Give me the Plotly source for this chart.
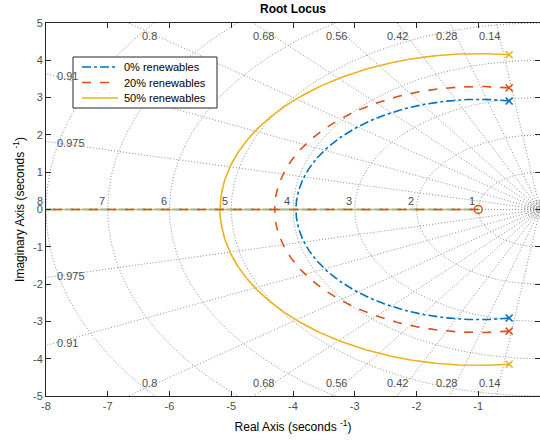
import numpy as np
import plotly.graph_objects as go

# ---- data ----
series_names = ["0% renewables", "20% renewables", "50% renewables"]
series_colors = ["#0072BD", "#D95319", "#EDB120"]
series_dash = ["dashdot", "dash", "solid"]
pole_real = [-0.5, -0.5, -0.5]
pole_imag = [2.91, 3.26, 4.15]
zero_real = [-1.0, -1.0, -1.0]

damping_values = [0.14, 0.28, 0.42, 0.56, 0.68, 0.8, 0.91, 0.975]
damping_top = [0.14, 0.28, 0.42, 0.56, 0.68, 0.8]
damping_left = [0.91, 0.975]
freq_values = [1, 2, 3, 4, 5, 6, 7, 8]
fine_freq_values = [0.05, 0.1, 0.15, 0.2, 0.25]
x_ticks = [-8, -7, -6, -5, -4, -3, -2, -1, 0]
y_ticks = [-5, -4, -3, -2, -1, 0, 1, 2, 3, 4, 5]
x_range = [-8, 0]
y_range = [-5, 5]

fig = go.Figure()

GRID_COLOR = "#8c8c8c"
GRID_DASH = "1px,2px"
LABEL_COLOR = "#4d4d4d"
TICK_COLOR = "#4d4d4d"
FONT = "Liberation Sans, Arial, sans-serif"
W, H = 540, 443
ML, MR, MT, MB = 46, 0, 23, 47
PW, PH = W - ML - MR, H - MT - MB

def px_to_paper(xp, yp):
    return (xp - ML) / PW, (H - MB - yp) / PH

# ---- s-plane grid: damping lines ----
R = 30
for z in damping_values + [1.0]:
    th = np.arccos(z)
    xs = [0, -R * np.cos(th), None, 0, -R * np.cos(th)]
    ys = [0, R * np.sin(th), None, 0, -R * np.sin(th)]
    fig.add_trace(go.Scatter(x=xs, y=ys, mode="lines", hoverinfo="skip", showlegend=False,
                             line=dict(color=GRID_COLOR, width=1, dash=GRID_DASH)))
# natural-frequency circles (left half)
ang = np.linspace(np.pi / 2, 3 * np.pi / 2, 400)
for r in freq_values + fine_freq_values:
    fig.add_trace(go.Scatter(x=r * np.cos(ang), y=r * np.sin(ang), mode="lines", hoverinfo="skip",
                             showlegend=False, line=dict(color=GRID_COLOR, width=1, dash=GRID_DASH)))

# ---- root loci ----
def locus(pr, pi, zr):
    # open loop (s - zr) / ((s-p)(s-p*)) ; closed loop char poly: s^2 + (a+K) s + (b - K zr)
    a = -2 * pr
    b = pr ** 2 + pi ** 2
    Kb_candidates = np.roots([1, 2 * a + 4 * zr, a ** 2 - 4 * b])
    Kb = max(np.real(Kb_candidates))
    K1 = np.linspace(0, Kb, 400)
    K2 = Kb + np.logspace(-6, 4, 600)
    def r(K, sign):
        B = a + K
        C = b - K * zr
        d = np.sqrt(B ** 2 - 4 * C + 0j)
        return (-B + sign * d) / 2
    up = np.concatenate([r(K1, 1), r(K2, 1)])
    lo = np.concatenate([r(K1, -1), r(K2, -1)])
    up = np.where(np.imag(up) < 0, np.conj(up), up)
    lo = np.where(np.imag(lo) > 0, np.conj(lo), lo)
    return up, lo

order = [0, 2, 1]  # blue, yellow, then orange on top (as in reference)
for i in order:
    up, lo = locus(pole_real[i], pole_imag[i], zero_real[i])
    for br in (up, lo):
        fig.add_trace(go.Scatter(x=np.real(br), y=np.imag(br), mode="lines", showlegend=False,
                                 hoverinfo="skip",
                                 line=dict(color=series_colors[i], width=1.6, dash=series_dash[i])))
    fig.add_trace(go.Scatter(x=[pole_real[i], pole_real[i]], y=[pole_imag[i], -pole_imag[i]],
                             mode="markers", showlegend=False, hoverinfo="skip",
                             marker=dict(symbol="x-thin", size=7, line=dict(color=series_colors[i], width=1.5))))
fig.add_trace(go.Scatter(x=[zero_real[1]], y=[0], mode="markers", showlegend=False, hoverinfo="skip",
                         marker=dict(symbol="circle-open", size=8, color=series_colors[1],
                                     line=dict(color=series_colors[1], width=1.5))))

# ---- grid labels ----
ann = []
y_lab = 4.66
for z in damping_top:
    slope = np.tan(np.arccos(z))
    for sgn in (1, -1):
        ann.append(dict(x=-y_lab / slope, y=sgn * y_lab, text=f"{z:g}", showarrow=False,
                        xanchor="right", yanchor="middle", xshift=3,
                        font=dict(size=11, color=LABEL_COLOR, family=FONT)))
x_lab = -7.83
for z in damping_left:
    slope = np.tan(np.arccos(z))
    for sgn in (1, -1):
        ann.append(dict(x=x_lab, y=sgn * (-x_lab) * slope, text=f"{z:g}", showarrow=False,
                        xanchor="left", yanchor="middle", xshift=-2,
                        font=dict(size=11, color=LABEL_COLOR, family=FONT)))
for r in freq_values:
    ann.append(dict(x=-r, y=0, text=str(r), showarrow=False, xanchor="right", yanchor="bottom",
                    xshift=-1, yshift=1, font=dict(size=11, color=LABEL_COLOR, family=FONT)))

# ---- legend (drawn manually to match MATLAB's compact legend box) ----
shapes = []
bx0, by0 = px_to_paper(73, 108)
bx1, by1 = px_to_paper(217, 57)
shapes.append(dict(type="rect", xref="paper", yref="paper", x0=bx0, y0=by0, x1=bx1, y1=by1,
                   fillcolor="white", line=dict(color="#262626", width=1), layer="above"))
entry_y = [67, 82.5, 98]
for i, yp in enumerate(entry_y):
    lx0, ly = px_to_paper(82, yp)
    lx1, _ = px_to_paper(118, yp)
    shapes.append(dict(type="line", xref="paper", yref="paper", x0=lx0, x1=lx1, y0=ly, y1=ly,
                       line=dict(color=series_colors[i], width=1.6, dash=series_dash[i]), layer="above"))
    tx, _ = px_to_paper(122, yp)
    ann.append(dict(xref="paper", yref="paper", x=tx, y=ly, text=series_names[i], showarrow=False,
                    xanchor="left", yanchor="middle",
                    font=dict(size=11, color="#000000", family=FONT)))

fig.update_layout(
    width=W, height=H,
    margin=dict(l=ML, r=MR, t=MT, b=MB),
    plot_bgcolor="white", paper_bgcolor="white",
    font=dict(family=FONT, size=11, color=TICK_COLOR),
    title=dict(text="<b>Root Locus</b>", x=293 / W, xanchor="center", xref="container",
               y=1 - 9 / H, yanchor="middle", yref="container",
               font=dict(size=12, color="#000000", family=FONT)),
    annotations=ann,
    shapes=shapes,
    showlegend=False,
    hovermode=False,
    xaxis=dict(range=x_range, tickvals=x_ticks, ticktext=[str(v) for v in x_ticks],
               showgrid=False, zeroline=False, showline=True, mirror="ticks", linecolor="#262626",
               linewidth=1, ticks="inside", ticklen=5, tickcolor="#262626", automargin=False,
               tickfont=dict(size=11, color=TICK_COLOR),
               title=dict(text="Real Axis (seconds <sup>-1</sup>)", standoff=11,
                          font=dict(size=12, color="#000000"))),
    yaxis=dict(range=y_range, tickvals=y_ticks, ticktext=[str(v) for v in y_ticks],
               showgrid=False, zeroline=False, showline=True, mirror="ticks", linecolor="#262626",
               linewidth=1, ticks="inside", ticklen=5, tickcolor="#262626", automargin=False,
               tickfont=dict(size=11, color=TICK_COLOR),
               title=dict(text="Imaginary Axis (seconds <sup>-1</sup>)", standoff=5,
                          font=dict(size=12, color="#000000"))),
)

fig.write_html("out.html", config={"displayModeBar": False},
               post_script="document.body.style.margin='0px';")
